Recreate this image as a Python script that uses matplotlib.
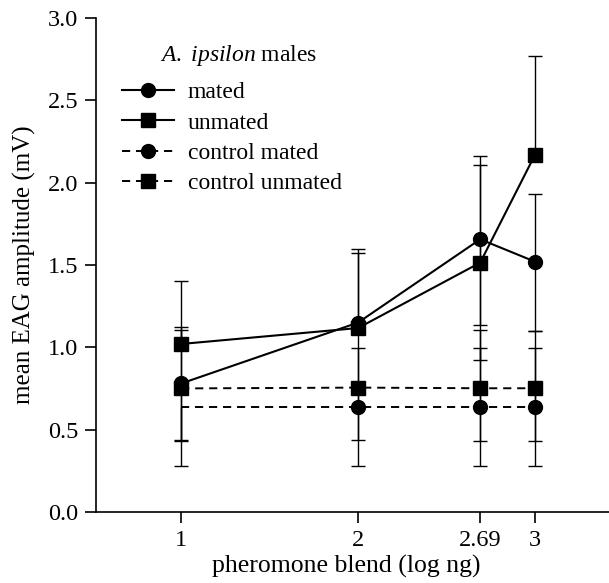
import numpy as np
import matplotlib
matplotlib.use("Agg")
import matplotlib.pyplot as plt
from matplotlib.lines import Line2D

# datos
dosis = [1, 2, 2.69, 3]
tick_labels = ["1", "2", "2.69", "3"]

mated = [0.78, 1.15, 1.656, 1.52]
mated_err_up = [0.345, 0.447, 0.504, 0.41]
mated_err_dn = [0.345, np.nan, 0.521, 0.42]

unmated = [1.02, 1.117, 1.514, 2.17]
unmated_err_up = [0.38, 0.456, 0.593, 0.60]
unmated_err_dn = [np.nan, np.nan, 0.591, np.nan]

ctrl_mated = [0.64, 0.64, 0.64, 0.64]
ctrl_mated_err_up = [np.nan, 0.355, 0.355, 0.355]
ctrl_mated_err_dn = [0.36, 0.36, 0.36, 0.36]

ctrl_unmated = [0.75, 0.755, 0.751, 0.751]
ctrl_unmated_err_up = [0.355, 0.355, 0.355, 0.35]
ctrl_unmated_err_dn = [0.32, 0.32, 0.32, 0.32]

plt.rcParams['font.family'] = ['Liberation Serif', 'DejaVu Serif']
plt.rcParams['font.size'] = 17
plt.rcParams['mathtext.fontset'] = 'custom'
plt.rcParams['mathtext.rm'] = 'Liberation Serif'
plt.rcParams['mathtext.it'] = 'Liberation Serif:italic'

fig = plt.figure(figsize=(6.09, 5.83), dpi=100)
ax = fig.add_axes([0.158, 0.122, 0.842, 0.847])

# barras de error: linea vertical completa y remates solo donde se ven
series = [
    (mated, mated_err_dn, mated_err_up),
    (unmated, unmated_err_dn, unmated_err_up),
    (ctrl_mated, ctrl_mated_err_dn, ctrl_mated_err_up),
    (ctrl_unmated, ctrl_unmated_err_dn, ctrl_unmated_err_up),
]
for vals, dn, up in series:
    v = np.array(vals)
    bajo = v - np.array(dn)
    alto = v + np.array(up)
    ax.vlines(dosis, np.where(np.isnan(bajo), v, bajo), np.where(np.isnan(alto), v, alto),
              color='black', lw=1.0, zorder=2)
    for extremo in (bajo, alto):
        ok = ~np.isnan(extremo)
        ax.plot(np.array(dosis)[ok], extremo[ok], linestyle='none', marker='_',
                markersize=10, mew=1.0, color='black', zorder=2)

dash = (0, (4.2, 3.0))
ax.plot(dosis, ctrl_mated, color='black', lw=1.4, linestyle=dash,
        marker='o', markersize=10, markevery=[1, 2, 3], zorder=3)
ax.plot(dosis, ctrl_unmated, color='black', lw=1.4, linestyle=dash,
        marker='s', markersize=9.5, zorder=3)
ax.plot(dosis, mated, color='black', lw=1.5, marker='o', markersize=10, zorder=4)
ax.plot(dosis, unmated, color='black', lw=1.5, marker='s', markersize=9.5, zorder=4)

ax.set_xlim(0.52, 3.418)
ax.set_ylim(0, 3.0)
ax.set_xticks(dosis)
ax.set_xticklabels(tick_labels)
ax.set_yticks([0, 0.5, 1.0, 1.5, 2.0, 2.5, 3.0])
ax.set_yticklabels(["0.0", "0.5", "1.0", "1.5", "2.0", "2.5", "3.0"])

for lado in ['top', 'right']:
    ax.spines[lado].set_visible(False)
for lado in ['left', 'bottom']:
    ax.spines[lado].set_linewidth(1.2)
ax.tick_params(direction='out', length=8, width=1.2, pad=5, labelsize=17.5)

ax.set_xlabel("pheromone blend (log ng)", labelpad=3, fontsize=18.5)
ax.xaxis.label.set_x(0.487)
ax.set_ylabel("mean EAG amplitude (mV)", labelpad=8, fontsize=18)

# leyenda
handles = [
    Line2D([], [], color='black', lw=1.5, marker='o', markersize=10),
    Line2D([], [], color='black', lw=1.5, marker='s', markersize=9.5),
    Line2D([], [], color='black', lw=1.4, linestyle=dash, marker='o', markersize=10),
    Line2D([], [], color='black', lw=1.4, linestyle=dash, marker='s', markersize=9.5),
]
labels = ["mated", "unmated", "control mated", "control unmated"]
ax.legend(handles, labels, loc='upper left', bbox_to_anchor=(0.05, 0.871),
          frameon=False, borderpad=0, borderaxespad=0, handlelength=2.2,
          handletextpad=0.6, labelspacing=0.37, numpoints=1)
ax.text(0.125, 0.925, r"$\mathit{A.\ ipsilon}$ males", transform=ax.transAxes,
        va='center', ha='left')

fig.savefig("out.png", dpi=100)
